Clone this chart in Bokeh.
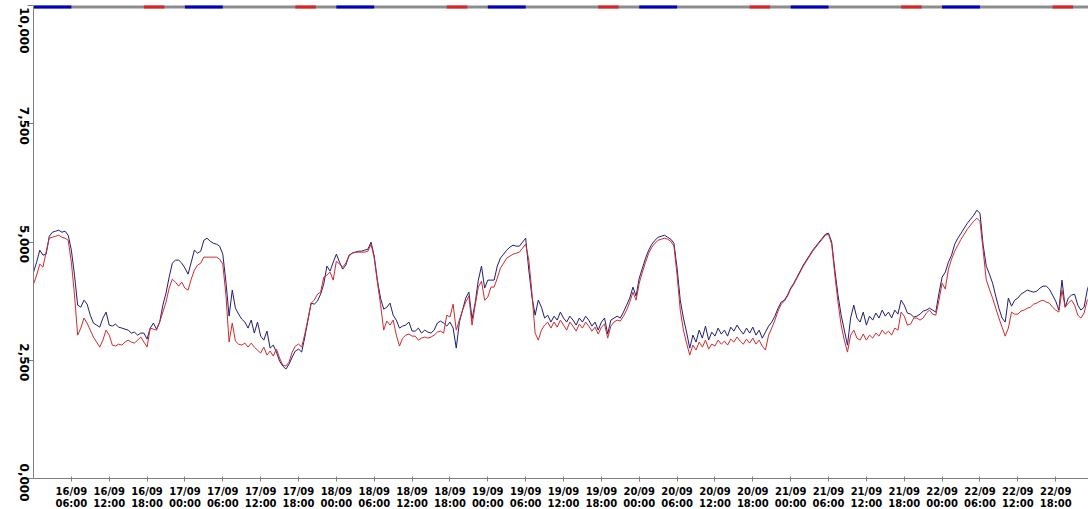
import math
from bokeh.plotting import figure
from bokeh.models import ColumnDataSource, Range1d, FixedTicker, LinearAxis
from bokeh.embed import file_html
from bokeh.resources import INLINE

# half-hourly readings from 16/09 00:00
blue = [
    4361, 4574, 4828, 4722, 4743, 5122, 5207, 5228, 5249, 5207, 5228, 5143, 4828, 4300, 3665, 3622,
    3770, 3686, 3453, 3286, 3243, 3200, 3392, 3518, 3243, 3222, 3264, 3200, 3180, 3158, 3137, 3074,
    3095, 3031, 3074, 3074, 2947, 3180, 3286, 3158, 3307, 3665, 3918, 4257, 4553, 4617, 4617, 4553,
    4447, 4320, 4574, 4828, 4764, 4806, 5037, 5080, 5016, 4975, 4954, 4912, 4743, 4151, 3432, 3983,
    3601, 3475, 3370, 3307, 3180, 3349, 3074, 3307, 3010, 2926, 3116, 2757, 2820, 2673, 2482, 2377,
    2314, 2419, 2567, 2694, 2736, 2673, 2990, 3349, 3708, 3686, 3749, 3897, 4109, 4490, 4384, 4574,
    4743, 4574, 4426, 4511, 4722, 4764, 4785, 4806, 4806, 4828, 4849, 4996, 4700, 4194, 3814, 3580,
    3622, 3708, 3453, 3349, 3180, 3222, 3243, 3307, 3116, 3116, 3180, 3074, 3137, 3095, 3074, 3137,
    3286, 3328, 3286, 3222, 3307, 3180, 2757, 3307, 3560, 3814, 3939, 3370, 3708, 4194, 4490, 4025,
    4194, 4194, 4194, 4490, 4659, 4743, 4828, 4891, 4933, 4912, 4912, 4996, 5080, 4405, 3835, 3453,
    3770, 3622, 3392, 3453, 3307, 3432, 3349, 3518, 3392, 3307, 3432, 3349, 3243, 3392, 3307, 3432,
    3349, 3222, 3307, 3137, 3307, 3392, 3053, 3349, 3392, 3432, 3392, 3518, 3665, 3814, 4046, 3856,
    4236, 4447, 4659, 4828, 4954, 5037, 5101, 5122, 5143, 5101, 5059, 4975, 4447, 3770, 3392, 3095,
    2757, 3031, 2884, 3137, 2968, 3222, 2926, 3095, 3010, 3180, 3053, 3137, 3010, 3200, 3116, 3243,
    3137, 3053, 3180, 3074, 3200, 3031, 3137, 2968, 3095, 3222, 3307, 3432, 3601, 3729, 3770, 3877,
    4025, 4130, 4257, 4384, 4511, 4617, 4722, 4828, 4912, 4996, 5080, 5164, 5185, 4996, 4405, 3877,
    3453, 3137, 2820, 3392, 3665, 3392, 3307, 3518, 3243, 3432, 3349, 3497, 3392, 3560, 3432, 3518,
    3392, 3560, 3475, 3770, 3665, 3497, 3475, 3413, 3432, 3475, 3539, 3560, 3601, 3560, 3518, 3918,
    4257, 4363, 4574, 4722, 4954, 5080, 5185, 5291, 5397, 5481, 5565, 5671, 5608, 4933, 4490, 4320,
    4130, 3856, 3601, 3392, 3307, 3814, 3643, 3770, 3814, 3897, 3939, 3983, 3960, 3939, 3960, 4025,
    4067, 4067, 4004, 3877, 3749, 3560, 4194, 3622, 3814, 3877, 3897, 3665, 3560, 3622, 3983, 4194,
]
red = [
    4109, 4300, 4532, 4469, 4785, 5080, 5101, 5122, 5143, 5101, 5080, 5037, 4574, 3877, 3031, 3180,
    3392, 3286, 3137, 2990, 2884, 2778, 2926, 3137, 3031, 2820, 2799, 2841, 2820, 2884, 2926, 2884,
    2863, 2926, 2990, 2884, 2778, 3180, 3158, 3137, 3307, 3518, 3729, 4025, 4215, 4151, 4067, 4151,
    4025, 3983, 4215, 4405, 4511, 4553, 4680, 4680, 4680, 4680, 4680, 4638, 4532, 3877, 2884, 3286,
    2905, 2841, 2820, 2863, 2778, 2863, 2778, 2715, 2652, 2778, 2609, 2694, 2588, 2736, 2546, 2398,
    2377, 2461, 2673, 2799, 2841, 2778, 3053, 3370, 3708, 3770, 3897, 3939, 4257, 4300, 4363, 4194,
    4595, 4532, 4469, 4553, 4701, 4764, 4785, 4785, 4785, 4785, 4806, 4954, 4659, 4151, 3686, 3137,
    3328, 3243, 3349, 3031, 2799, 2968, 3031, 3053, 3010, 3010, 2926, 2968, 2990, 2968, 2990, 3031,
    3095, 3116, 3074, 3453, 3413, 3686, 3137, 3349, 3560, 3729, 3856, 3243, 3665, 4046, 4172, 3770,
    3835, 4046, 4046, 4236, 4447, 4553, 4659, 4701, 4743, 4764, 4785, 4870, 4954, 4617, 3918, 3074,
    2926, 3137, 3243, 3307, 3180, 3307, 3200, 3349, 3243, 3137, 3307, 3222, 3116, 3264, 3180, 3307,
    3222, 3116, 3200, 3053, 3200, 3264, 2968, 3222, 3307, 3349, 3328, 3432, 3560, 3729, 3939, 3770,
    4130, 4363, 4574, 4764, 4891, 4975, 5037, 5059, 5080, 5059, 5016, 4912, 4300, 3560, 3137, 2863,
    2609, 2820, 2715, 2884, 2778, 2926, 2736, 2841, 2799, 2926, 2841, 2905, 2820, 2947, 2884, 2990,
    2905, 2841, 2947, 2863, 2968, 2841, 2926, 2799, 2715, 3031, 3180, 3349, 3539, 3686, 3749, 3856,
    4004, 4109, 4236, 4363, 4490, 4595, 4701, 4806, 4891, 4975, 5059, 5143, 5164, 4954, 4300, 3729,
    3243, 2926, 2673, 3031, 3137, 2968, 2926, 3053, 2926, 3031, 2968, 3074, 3010, 3137, 3053, 3116,
    3031, 3180, 3137, 3518, 3432, 3243, 3264, 3392, 3392, 3349, 3392, 3497, 3560, 3475, 3453, 3770,
    4130, 4004, 4426, 4638, 4806, 4933, 5059, 5164, 5270, 5355, 5439, 5502, 5439, 4828, 4194, 4004,
    3814, 3601, 3392, 3200, 3010, 3180, 3518, 3475, 3475, 3539, 3560, 3601, 3622, 3686, 3708, 3749,
    3770, 3729, 3708, 3622, 3560, 3518, 3983, 3622, 3708, 3770, 3665, 3453, 3392, 3497, 3770, 3835,
]
step_hours = 0.5
hours = [i * step_hours for i in range(len(blue))]

tick_hours = [6, 12, 18, 24, 30, 36, 42, 48, 54, 60, 66, 72, 78, 84, 90, 96, 102, 108,
              114, 120, 126, 132, 138, 144, 150, 156, 162]
tick_labels = [
    "16/09\n06:00", "16/09\n12:00", "16/09\n18:00",
    "17/09\n00:00", "17/09\n06:00", "17/09\n12:00", "17/09\n18:00",
    "18/09\n00:00", "18/09\n06:00", "18/09\n12:00", "18/09\n18:00",
    "19/09\n00:00", "19/09\n06:00", "19/09\n12:00", "19/09\n18:00",
    "20/09\n00:00", "20/09\n06:00", "20/09\n12:00", "20/09\n18:00",
    "21/09\n00:00", "21/09\n06:00", "21/09\n12:00", "21/09\n18:00",
    "22/09\n00:00", "22/09\n06:00", "22/09\n12:00", "22/09\n18:00",
]
y_ticks = [0, 2500, 5000, 7500, 10000]
y_labels = ["0,000", "2,500", "5,000", "7,500", "10,000"]

# band along the top: night (blue) and evening peak (red) periods, in hours
band_start = [0]
band_end = [168]
night_start = [0, 24, 48, 72, 96, 120, 144]
night_end = [6, 30, 54, 78, 102, 126, 150]
peak_start = [17.5, 41.5, 65.5, 89.5, 113.5, 137.5, 161.5]
peak_end = [20.75, 44.75, 68.75, 92.75, 116.75, 140.75, 164.75]
band_level = 10000

# layout: the frame runs to the bottom edge; the time axis sits at y = 0
W, H = 1088, 509
B_LEFT, B_TOP = 33, 5
AXIS_SPACE = 31                      # px below the zero line for the time labels
plot_h = H - B_TOP - AXIS_SPACE      # px between 0 and 10,000
units_per_px = (y_ticks[-1] - y_ticks[0]) / plot_h
y_start = y_ticks[0] - AXIS_SPACE * units_per_px
# vertical labels read top-to-bottom and end this many px below their tick
label_end_px = [23, 21, 21, 21, 48]
label_pos = [round(v - e * units_per_px) for v, e in zip(y_ticks, label_end_px)]

src = ColumnDataSource(dict(t=hours, blue=blue, red=red))

p = figure(width=W, height=H, output_backend="svg", toolbar_location=None,
           x_range=Range1d(0, 167.2), y_range=Range1d(y_start, y_ticks[-1]),
           min_border_left=B_LEFT, min_border_right=0, min_border_top=B_TOP,
           min_border_bottom=0)
p.outline_line_color = None
p.xgrid.visible = False
p.ygrid.visible = False
p.background_fill_color = "white"
p.border_fill_color = "white"

p.line("t", "blue", source=src, line_color="#1d1d78", line_width=1)
p.line("t", "red", source=src, line_color="#d42a2a", line_width=1)

p.segment(x0=band_start, y0=[band_level], x1=band_end, y1=[band_level],
          line_color="#8c8c8c", line_width=6)
p.segment(x0=night_start, y0=[band_level] * len(night_start), x1=night_end,
          y1=[band_level] * len(night_end), line_color="#0000c4", line_width=6)
p.segment(x0=peak_start, y0=[band_level] * len(peak_start), x1=peak_end,
          y1=[band_level] * len(peak_end), line_color="#e02222", line_width=6)

xa = p.xaxis[0]
xa.fixed_location = y_ticks[0]
xa.ticker = FixedTicker(ticks=tick_hours)
xa.major_label_overrides = {h: lab for h, lab in zip(tick_hours, tick_labels)}
xa.major_label_text_font = "DejaVu Sans"
xa.major_label_text_font_style = "bold"
xa.major_label_text_font_size = "10px"
xa.major_label_text_line_height = 1.1
xa.major_label_text_color = "black"
xa.major_label_standoff = 4
xa.axis_line_color = "#7f7f7f"
xa.major_tick_line_color = "#7f7f7f"
xa.major_tick_out = 3
xa.major_tick_in = 2
xa.minor_tick_line_color = None

# y axis: line and tick marks only
ya = p.yaxis[0]
ya.ticker = FixedTicker(ticks=y_ticks)
ya.bounds = (y_ticks[0], y_ticks[-1])
ya.major_label_overrides = {v: "" for v in y_ticks}
ya.major_label_text_font_size = "0px"
ya.major_label_standoff = 0
ya.axis_line_color = "#7f7f7f"
ya.major_tick_line_color = "#7f7f7f"
ya.major_tick_out = 6
ya.major_tick_in = 0
ya.minor_tick_line_color = None

# y axis labels, rotated to read top to bottom
ylab = LinearAxis(ticker=FixedTicker(ticks=label_pos),
                  major_label_overrides={pos: lab for pos, lab in zip(label_pos, y_labels)},
                  major_label_orientation=-math.pi / 2,
                  major_label_text_font="DejaVu Sans", major_label_text_font_style="bold",
                  major_label_text_font_size="12px", major_label_text_color="black",
                  major_label_standoff=3, axis_line_color=None, major_tick_line_color=None,
                  minor_tick_line_color=None, major_tick_out=0, major_tick_in=0,
                  bounds=(label_pos[0] - 50, label_pos[-1] + 10))
p.add_layout(ylab, "left")

open("out.html", "w").write(file_html(p, INLINE))
